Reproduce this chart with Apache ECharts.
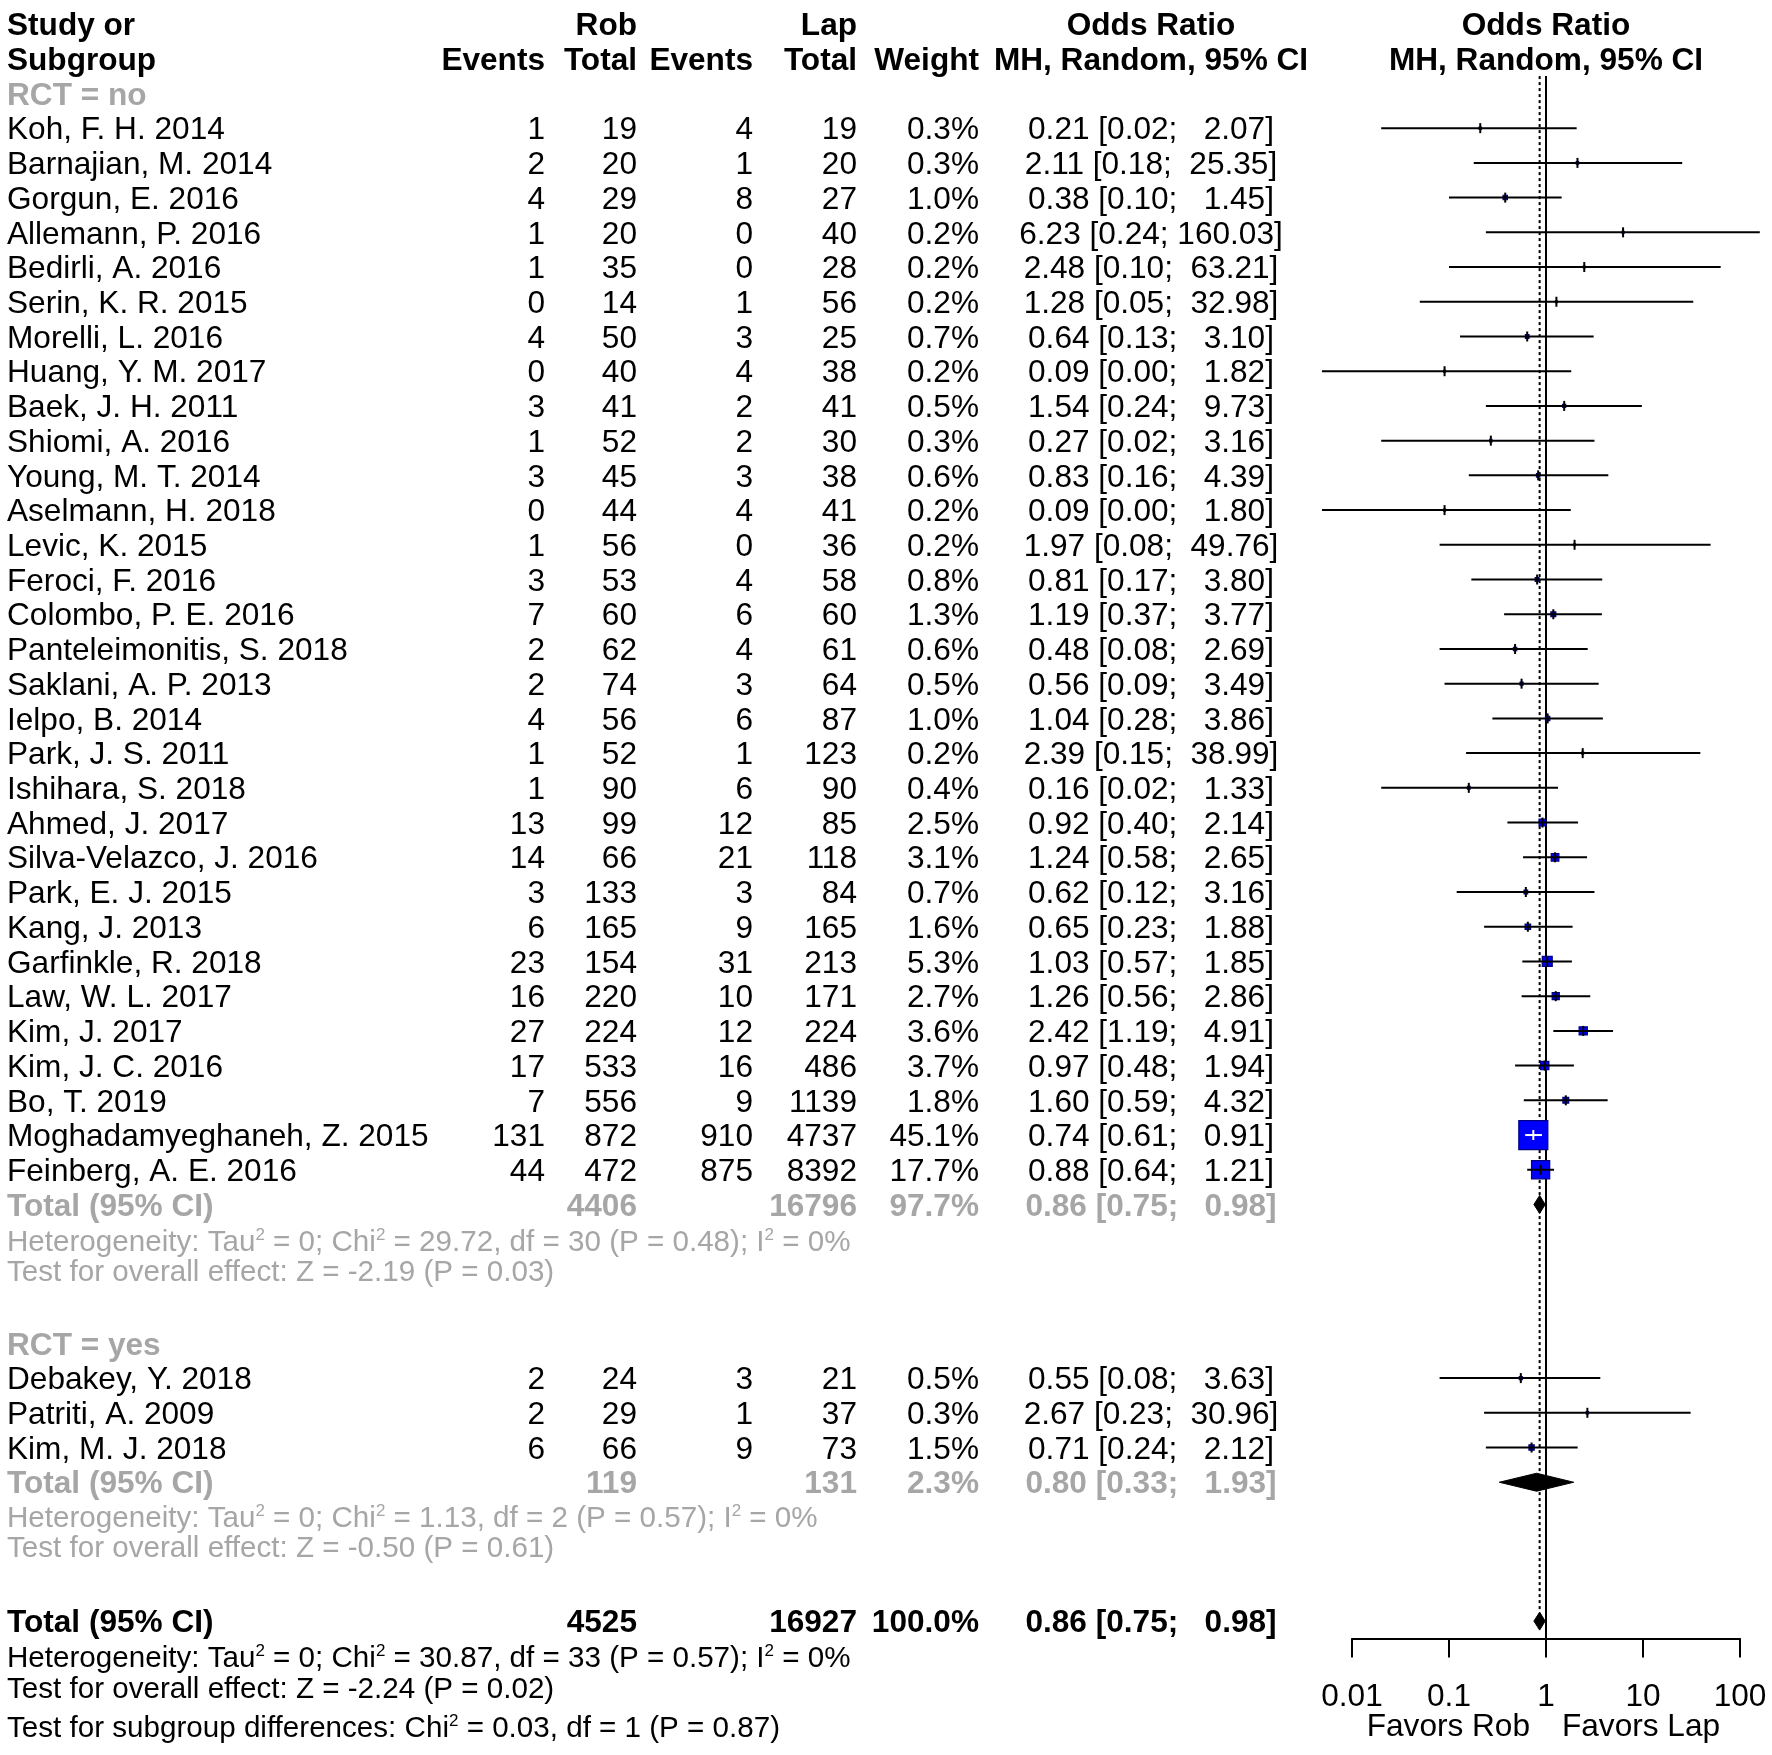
<!DOCTYPE html>
<html><head><meta charset="utf-8">
<script src="https://cdn.jsdelivr.net/npm/echarts@6/dist/echarts.min.js"></script>
<style>html,body{margin:0;padding:0;background:#fff}#c{width:1772px;height:1755px}</style>
</head><body><div id="c"></div>
<script>
// ---------------- data ----------------
const groupNames = ['RCT = no', 'RCT = yes'];
const studyNames = [
  'Koh, F. H. 2014','Barnajian, M. 2014','Gorgun, E. 2016','Allemann, P. 2016','Bedirli, A. 2016',
  'Serin, K. R. 2015','Morelli, L. 2016','Huang, Y. M. 2017','Baek, J. H. 2011','Shiomi, A. 2016',
  'Young, M. T. 2014','Aselmann, H. 2018','Levic, K. 2015','Feroci, F. 2016','Colombo, P. E. 2016',
  'Panteleimonitis, S. 2018','Saklani, A. P. 2013','Ielpo, B. 2014','Park, J. S. 2011','Ishihara, S. 2018',
  'Ahmed, J. 2017','Silva-Velazco, J. 2016','Park, E. J. 2015','Kang, J. 2013','Garfinkle, R. 2018',
  'Law, W. L. 2017','Kim, J. 2017','Kim, J. C. 2016','Bo, T. 2019','Moghadamyeghaneh, Z. 2015',
  'Feinberg, A. E. 2016',
  'Debakey, Y. 2018','Patriti, A. 2009','Kim, M. J. 2018'
];
const studyGroup = [0,0,0,0,0,0,0,0,0,0,0,0,0,0,0,0,0,0,0,0,0,0,0,0,0,0,0,0,0,0,0, 1,1,1];
const robEvents = [1,2,4,1,1,0,4,0,3,1,3,0,1,3,7,2,2,4,1,1,13,14,3,6,23,16,27,17,7,131,44, 2,2,6];
const robTotal  = [19,20,29,20,35,14,50,40,41,52,45,44,56,53,60,62,74,56,52,90,99,66,133,165,154,220,224,533,556,872,472, 24,29,66];
const lapEvents = [4,1,8,0,0,1,3,4,2,2,3,4,0,4,6,4,3,6,1,6,12,21,3,9,31,10,12,16,9,910,875, 3,1,9];
const lapTotal  = [19,20,27,40,28,56,25,38,41,30,38,41,36,58,60,61,64,87,123,90,85,118,84,165,213,171,224,486,1139,4737,8392, 21,37,73];
const weights   = [0.3,0.3,1.0,0.2,0.2,0.2,0.7,0.2,0.5,0.3,0.6,0.2,0.2,0.8,1.3,0.6,0.5,1.0,0.2,0.4,2.5,3.1,0.7,1.6,5.3,2.7,3.6,3.7,1.8,45.1,17.7, 0.5,0.3,1.5];
const orValues  = [0.21,2.11,0.38,6.23,2.48,1.28,0.64,0.09,1.54,0.27,0.83,0.09,1.97,0.81,1.19,0.48,0.56,1.04,2.39,0.16,0.92,1.24,0.62,0.65,1.03,1.26,2.42,0.97,1.60,0.74,0.88, 0.55,2.67,0.71];
const ciLower   = [0.02,0.18,0.10,0.24,0.10,0.05,0.13,0.0049,0.24,0.02,0.16,0.0049,0.08,0.17,0.37,0.08,0.09,0.28,0.15,0.02,0.40,0.58,0.12,0.23,0.57,0.56,1.19,0.48,0.59,0.61,0.64, 0.08,0.23,0.24];
const ciUpper   = [2.07,25.35,1.45,160.03,63.21,32.98,3.10,1.82,9.73,3.16,4.39,1.80,49.76,3.80,3.77,2.69,3.49,3.86,38.99,1.33,2.14,2.65,3.16,1.88,1.85,2.86,4.91,1.94,4.32,0.91,1.21, 3.63,30.96,2.12];

const subRobTotal = [4406, 119];
const subLapTotal = [16796, 131];
const subWeight   = [97.7, 2.3];
const subOR       = [0.86, 0.80];
const subLower    = [0.75, 0.33];
const subUpper    = [0.98, 1.93];
const subHet  = ['Heterogeneity: Tau{s|2} = 0; Chi{s|2} = 29.72, df = 30 (P = 0.48); I{s|2} = 0%',
                 'Heterogeneity: Tau{s|2} = 0; Chi{s|2} = 1.13, df = 2 (P = 0.57); I{s|2} = 0%'];
const subTest = ['Test for overall effect: Z = -2.19 (P = 0.03)',
                 'Test for overall effect: Z = -0.50 (P = 0.61)'];

const totRob = 4525, totLap = 16927, totWeight = 100.0;
const totOR = 0.86, totLower = 0.75, totUpper = 0.98;
const totHet = 'Heterogeneity: Tau{s|2} = 0; Chi{s|2} = 30.87, df = 33 (P = 0.57); I{s|2} = 0%';
const totTest = 'Test for overall effect: Z = -2.24 (P = 0.02)';
const subDiff = 'Test for subgroup differences: Chi{s|2} = 0.03, df = 1 (P = 0.87)';

const axisTicks = [0.01, 0.1, 1, 10, 100];
const leftLabel = 'Favors Rob', rightLabel = 'Favors Lap';

// ---------------- layout ----------------
const FONT = '"Liberation Sans", Arial, Helvetica, sans-serif';
const GRAY = '#a6a6a6';
const ROW_H = 34.72, TOP = 24;
const TEXT_DY = 2.5;   // text baseline nudge (px)
const COL = {study: 7, robE: 545, robT: 637, lapE: 753, lapT: 857, weight: 979, or: 1151, fhead: 1546,
             favL: 1530, favR: 1562};
const FS = 31.6, FS_HET = 29.6;
const SQ_K = 4.32;   // square side = SQ_K * sqrt(weight%)
const DIA_H = 9;

const f2 = v => v.toFixed(2);
const padL = (s, n) => ' '.repeat(Math.max(0, n - s.length)) + s;
const ciText = (o, l, h) => `${f2(o)} [${f2(l)}; ${padL(f2(h), 6)}]`;

const texts = [];
function T(x, row, text, opt) {
  texts.push(Object.assign({x, row, text, align: 'left', bold: false, color: '#000', size: FS}, opt || {}));
}
const B = {bold: true};
// header
T(COL.study, 0, 'Study or', B); T(COL.study, 1, 'Subgroup', B);
T(COL.robT, 0, 'Rob', {bold: true, align: 'right'});
T(COL.lapT, 0, 'Lap', {bold: true, align: 'right'});
T(COL.robE, 1, 'Events', {bold: true, align: 'right'});
T(COL.robT, 1, 'Total', {bold: true, align: 'right'});
T(COL.lapE, 1, 'Events', {bold: true, align: 'right'});
T(COL.lapT, 1, 'Total', {bold: true, align: 'right'});
T(COL.weight, 1, 'Weight', {bold: true, align: 'right'});
T(COL.or, 0, 'Odds Ratio', {bold: true, align: 'center'});
T(COL.or, 1, 'MH, Random, 95% CI', {bold: true, align: 'center'});
T(COL.fhead, 0, 'Odds Ratio', {bold: true, align: 'center'});
T(COL.fhead, 1, 'MH, Random, 95% CI', {bold: true, align: 'center'});

const studyData = [];   // [or, lo, hi, weight, row]
const diamondData = []; // [or, lo, hi, row]
let r = 2;
for (let g = 0; g < groupNames.length; g++) {
  T(COL.study, r, groupNames[g], {bold: true, color: GRAY});
  r++;
  for (let i = 0; i < studyNames.length; i++) {
    if (studyGroup[i] !== g) continue;
    T(COL.study, r, studyNames[i]);
    T(COL.robE, r, String(robEvents[i]), {align: 'right'});
    T(COL.robT, r, String(robTotal[i]), {align: 'right'});
    T(COL.lapE, r, String(lapEvents[i]), {align: 'right'});
    T(COL.lapT, r, String(lapTotal[i]), {align: 'right'});
    T(COL.weight, r, weights[i].toFixed(1) + '%', {align: 'right'});
    T(COL.or, r, ciText(orValues[i], ciLower[i], ciUpper[i]), {align: 'center'});
    studyData.push([orValues[i], ciLower[i], ciUpper[i], weights[i], r]);
    r++;
  }
  const gs = {bold: true, color: GRAY};
  T(COL.study, r, 'Total (95% CI)', gs);
  T(COL.robT, r, String(subRobTotal[g]), Object.assign({align: 'right'}, gs));
  T(COL.lapT, r, String(subLapTotal[g]), Object.assign({align: 'right'}, gs));
  T(COL.weight, r, subWeight[g].toFixed(1) + '%', Object.assign({align: 'right'}, gs));
  T(COL.or, r, ciText(subOR[g], subLower[g], subUpper[g]), Object.assign({align: 'center'}, gs));
  diamondData.push([subOR[g], subLower[g], subUpper[g], r]);
  T(COL.study, r + (g === 0 ? 1.03 : 0.99), subHet[g], {color: GRAY, size: FS_HET, rich: true});
  T(COL.study, r + (g === 0 ? 1.9 : 1.86), subTest[g], {color: GRAY, size: FS_HET});
  r += 4;
}
const totRow = r;
T(COL.study, totRow, 'Total (95% CI)', B);
T(COL.robT, totRow, String(totRob), {bold: true, align: 'right'});
T(COL.lapT, totRow, String(totLap), {bold: true, align: 'right'});
T(COL.weight, totRow, totWeight.toFixed(1) + '%', {bold: true, align: 'right'});
T(COL.or, totRow, ciText(totOR, totLower, totUpper), {bold: true, align: 'center'});
diamondData.push([totOR, totLower, totUpper, totRow]);
T(COL.study, totRow + 1.02, totHet, {size: FS_HET, rich: true});
T(COL.study, totRow + 1.91, totTest, {size: FS_HET});
T(COL.study, totRow + 3.03, subDiff, {size: FS_HET, rich: true});
T(COL.favL, totRow + 3.0, leftLabel, {align: 'right'});
T(COL.favR, totRow + 3.0, rightLabel, {align: 'left'});

const AXIS_ROW = totRow + 0.5;     // x-axis position in row units
const LINE_TOP_ROW = 1.5;
const refData = [[1, 0], [totOR, 1]];

// ---------------- chart ----------------
const chart = echarts.init(document.getElementById('c'), null, {renderer: 'canvas'});
const ROWS0 = 49.5;
chart.setOption({
  backgroundColor: '#fff',
  animation: false,
  grid: [
    {left: 0, top: TOP, width: 1772, height: ROW_H * ROWS0, show: false},
    {left: 1352, top: TOP, width: 388, height: ROW_H * AXIS_ROW, show: false}
  ],
  xAxis: [
    {gridIndex: 0, type: 'value', min: 0, max: 1772, show: false},
    {gridIndex: 1, type: 'log', logBase: 10, min: axisTicks[0], max: axisTicks[axisTicks.length - 1],
     splitNumber: 4, position: 'bottom',
     axisLine: {show: true, onZero: false, lineStyle: {color: '#000', width: 2}},
     axisTick: {show: true, inside: false, length: 19, lineStyle: {color: '#000', width: 2}},
     splitLine: {show: false}, minorTick: {show: false},
     axisLabel: {show: true, color: '#000', fontSize: FS, fontFamily: FONT, margin: 43, lineHeight: 31,
                 formatter: v => String(Number(Number(v).toPrecision(3)))}}
  ],
  yAxis: [
    {gridIndex: 0, type: 'value', min: 0, max: ROWS0, inverse: true, show: false},
    {gridIndex: 1, type: 'value', min: 0, max: AXIS_ROW, inverse: true, show: false}
  ],
  series: [
    { // table text
      type: 'custom', xAxisIndex: 0, yAxisIndex: 0, silent: true, z: 5,
      data: texts.map((t, i) => [t.x, t.row, i]),
      renderItem: (params, api) => {
        const t = texts[api.value(2)];
        const p = api.coord([api.value(0), api.value(1)]);
        const style = {
          text: t.text, fill: t.color,
          fontSize: t.size, fontFamily: FONT, fontWeight: t.bold ? 'bold' : 'normal',
          align: t.align, verticalAlign: 'middle'
        };
        if (t.rich) {
          style.lineHeight = 32;
          style.rich = {s: {fontSize: 17, fontFamily: FONT, fill: t.color, lineHeight: 15, verticalAlign: 'top'}};
        }
        return {type: 'text', x: p[0], y: p[1] + TEXT_DY, style};
      }
    },
    { // reference lines
      type: 'custom', xAxisIndex: 1, yAxisIndex: 1, silent: true, z: 1, clip: false,
      data: refData,
      renderItem: (params, api) => {
        const x = api.value(0), kind = api.value(1);
        const top = api.coord([x, LINE_TOP_ROW]);
        if (kind === 0) {
          const bot = api.coord([x, AXIS_ROW]);
          return {type: 'line', shape: {x1: top[0], y1: top[1], x2: bot[0], y2: bot[1]},
                  style: {stroke: '#000', lineWidth: 2}};
        }
        const bot = api.coord([x, totRow]);
        return {type: 'line', shape: {x1: top[0], y1: top[1], x2: bot[0], y2: bot[1] - DIA_H},
                style: {stroke: '#000', lineWidth: 2, lineDash: [3, 3]}};
      }
    },
    { // studies
      type: 'custom', xAxisIndex: 1, yAxisIndex: 1, silent: true, z: 3, clip: false,
      data: studyData,
      renderItem: (params, api) => {
        const o = api.value(0), lo = api.value(1), hi = api.value(2), w = api.value(3), row = api.value(4);
        const c = api.coord([o, row]), l = api.coord([lo, row]), h = api.coord([hi, row]);
        const s = SQ_K * Math.sqrt(w);
        const inside = l[0] >= c[0] - s / 2 && h[0] <= c[0] + s / 2;
        const col = inside ? '#fff' : '#000';
        return {type: 'group', children: [
          {type: 'rect', shape: {x: c[0] - s / 2, y: c[1] - s / 2, width: s, height: s},
           style: {fill: '#0000ff', stroke: '#000080', lineWidth: 1.2}},
          {type: 'line', shape: {x1: l[0], y1: c[1], x2: h[0], y2: c[1]}, style: {stroke: col, lineWidth: 2}},
          {type: 'line', shape: {x1: c[0], y1: c[1] - 5, x2: c[0], y2: c[1] + 5}, style: {stroke: col, lineWidth: 2}}
        ]};
      }
    },
    { // diamonds
      type: 'custom', xAxisIndex: 1, yAxisIndex: 1, silent: true, z: 4, clip: false,
      data: diamondData,
      renderItem: (params, api) => {
        const o = api.value(0), lo = api.value(1), hi = api.value(2), row = api.value(3);
        const c = api.coord([o, row]), l = api.coord([lo, row]), h = api.coord([hi, row]);
        return {type: 'polygon', shape: {points: [[l[0], c[1]], [c[0], c[1] - DIA_H], [h[0], c[1]], [c[0], c[1] + DIA_H]]},
                style: {fill: '#000', stroke: '#000', lineWidth: 1}};
      }
    }
  ]
});
</script>
</body></html>
